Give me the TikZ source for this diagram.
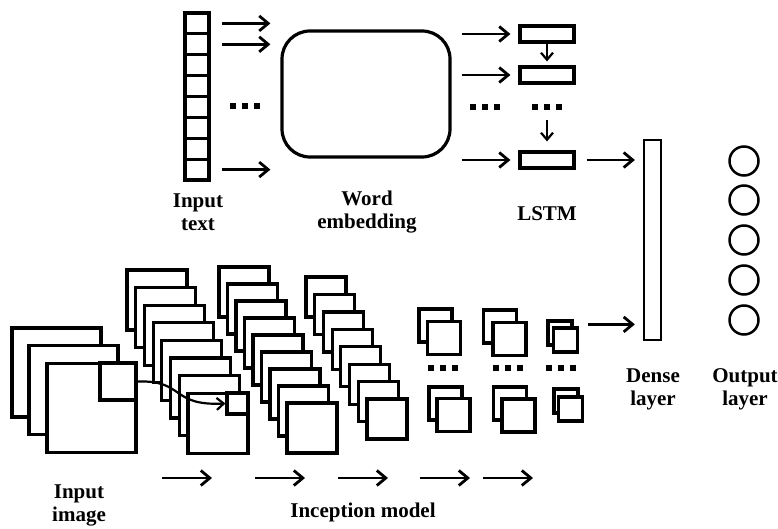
\documentclass[tikz,border=0pt]{standalone}
\usepackage{fontspec}
\setmainfont{Liberation Serif}
\usetikzlibrary{arrows.meta}
\newcommand{\sqdots}{\rule{6.5pt}{6.5pt}\hspace{5.5pt}\rule{6.5pt}{6.5pt}\hspace{5.5pt}\rule{6.5pt}{6.5pt}}
\begin{document}
\begin{tikzpicture}[x=1pt,y=1pt]
\tikzstyle{every node}+=[inner sep=0pt]
\tikzstyle{box}=[draw, line width=3.2pt, fill=white]
\tikzstyle{arr}=[line width=2.8pt, -{Straight Barb[length=9pt,width=15pt]}]
\tikzstyle{thinarr}=[line width=2.2pt, -{Straight Barb[length=7pt,width=12pt]}]
\tikzstyle{lbl}=[font=\fontsize{21}{23}\selectfont\bfseries, align=center]
\useasboundingbox (0,0) rectangle (778,-529);
% input text
\node [box, minimum width=24, minimum height=20.9] (t1) at (197,-23.4) {};
\node [box, minimum width=24, minimum height=20.9] (t2) at (197,-44.3) {};
\node [box, minimum width=24, minimum height=20.9] (t3) at (197,-65.2) {};
\node [box, minimum width=24, minimum height=20.9] (t4) at (197,-86.1) {};
\node [box, minimum width=24, minimum height=20.9] (t5) at (197,-107) {};
\node [box, minimum width=24, minimum height=20.9] (t6) at (197,-127.9) {};
\node [box, minimum width=24, minimum height=20.9] (t7) at (197,-148.8) {};
\node [box, minimum width=24, minimum height=20.9] (t8) at (197,-169.6) {};
\node (tdots) at (245,-106) {\sqdots};
% word embedding
\node [draw, line width=3.2pt, rounded corners=28pt, minimum width=168, minimum height=126] (emb) at (366,-94) {};
\node (edots) at (485,-107) {\sqdots};
% lstm
\node [box, minimum width=54, minimum height=16] (l1) at (547,-34) {};
\node [box, minimum width=54, minimum height=16] (l2) at (547,-75) {};
\node [box, minimum width=54, minimum height=16] (l3) at (547,-160) {};
\node (ldots) at (547,-107) {\sqdots};
% dense and output
\node [draw, line width=2.3pt, minimum width=17, minimum height=200] (dense) at (652.5,-240) {};
\node [draw, circle, line width=2.5pt, minimum size=29] (o1) at (744,-161) {};
\node [draw, circle, line width=2.5pt, minimum size=29] (o2) at (744,-200) {};
\node [draw, circle, line width=2.5pt, minimum size=29] (o3) at (744,-240) {};
\node [draw, circle, line width=2.5pt, minimum size=29] (o4) at (744,-280) {};
\node [draw, circle, line width=2.5pt, minimum size=29] (o5) at (744,-320) {};
\draw [arr, shorten <=11pt, shorten >=10pt] (t1.east) -- (t1.east -| emb.west);
\draw [arr, shorten <=11pt, shorten >=10pt] (t2.east) -- (t2.east -| emb.west);
\draw [arr, shorten <=11pt, shorten >=10pt] (t8.east) -- (t8.east -| emb.west);
\draw [arr, shorten <=10pt, shorten >=8pt] (l1.west -| emb.east) -- (l1.west);
\draw [arr, shorten <=10pt, shorten >=8pt] (l2.west -| emb.east) -- (l2.west);
\draw [arr, shorten <=10pt, shorten >=8pt] (l3.west -| emb.east) -- (l3.west);
\draw [thinarr, shorten >=4pt] (l1.south) -- (l2.north);
\draw [thinarr, shorten <=10pt, shorten >=9pt] (ldots.south) -- (l3.north);
\draw [arr, shorten <=11pt, shorten >=8pt] (l3.east) -- (l3.east -| dense.west);
% input image
\node [box, minimum size=89] (img1) at (56.5,-372.5) {};
\node [box, minimum size=89] (img2) at (73.5,-390) {};
\node [box, minimum size=89] (img3) at (91.5,-408) {};
\node [draw, line width=3.2pt, minimum width=36, minimum height=37] (p0) at (118,-381.5) {};
% inception stacks
\node [box, minimum size=60] (a1) at (157,-300) {};
\node [box, minimum size=60] (a2) at (165.7,-317.6) {};
\node [box, minimum size=60] (a3) at (174.4,-335.2) {};
\node [box, minimum size=60] (a4) at (183.1,-352.8) {};
\node [box, minimum size=60] (a5) at (191.8,-370.4) {};
\node [box, minimum size=60] (a6) at (200.5,-388) {};
\node [box, minimum size=60] (a7) at (209.2,-405.6) {};
\node [box, minimum size=60] (a8) at (217.9,-423.2) {};
\node [draw, line width=3.2pt, minimum size=21] (pa) at (237.5,-403.5) {};
\node [box, minimum size=50] (b1) at (244,-292) {};
\node [box, minimum size=50] (b2) at (252.5,-309) {};
\node [box, minimum size=50] (b3) at (261,-326) {};
\node [box, minimum size=50] (b4) at (269.5,-343) {};
\node [box, minimum size=50] (b5) at (278,-360) {};
\node [box, minimum size=50] (b6) at (286.5,-377) {};
\node [box, minimum size=50] (b7) at (295,-394) {};
\node [box, minimum size=50] (b8) at (303.5,-411) {};
\node [box, minimum size=50] (b9) at (312,-428) {};
\node [box, minimum size=40] (c1) at (326,-297) {};
\node [box, minimum size=40] (c2) at (334.7,-314.4) {};
\node [box, minimum size=40] (c3) at (343.4,-331.9) {};
\node [box, minimum size=40] (c4) at (352.1,-349.3) {};
\node [box, minimum size=40] (c5) at (360.8,-366.7) {};
\node [box, minimum size=40] (c6) at (369.6,-384.2) {};
\node [box, minimum size=40] (c7) at (378.3,-401.6) {};
\node [box, minimum size=40] (c8) at (387,-419) {};
\node [box, minimum size=33] (d1) at (435.5,-325.5) {};
\node [box, minimum size=33] (d2) at (444,-338) {};
\node (ddots) at (443,-368) {\sqdots};
\node [box, minimum size=33] (d3) at (445.5,-403.5) {};
\node [box, minimum size=33] (d4) at (453.5,-415) {};
\node [box, minimum size=33] (e1) at (500,-326.5) {};
\node [box, minimum size=33] (e2) at (509.5,-339) {};
\node (edots2) at (508,-368) {\sqdots};
\node [box, minimum size=33] (e3) at (510,-403.5) {};
\node [box, minimum size=33] (e4) at (518.5,-415.5) {};
\node [box, minimum size=24] (f1) at (560,-333) {};
\node [box, minimum size=24] (f2) at (565.5,-340) {};
\node (fdots) at (561,-368) {\sqdots};
\node [box, minimum size=24] (f3) at (566,-401) {};
\node [box, minimum size=24] (f4) at (570.5,-409) {};
\draw [thinarr] (p0.east) .. controls (185,-380) and (170,-406) .. (pa.west);
\coordinate (fout) at ([xshift=14pt,yshift=-5pt]f1.north east);
\draw [arr, shorten >=8pt] (fout) -- (fout -| dense.west);
% flow arrows
\coordinate (s1) at (162,-478);
\coordinate (s2) at (255,-478);
\coordinate (s3) at (338,-478);
\coordinate (s4) at (420,-478);
\coordinate (s5) at (483,-478);
\draw [arr] (s1) -- ([xshift=50pt]s1);
\draw [arr] (s2) -- ([xshift=50pt]s2);
\draw [arr] (s3) -- ([xshift=50pt]s3);
\draw [arr] (s4) -- ([xshift=50pt]s4);
\draw [arr] (s5) -- ([xshift=50pt]s5);
% labels
\node [lbl] (lintext) at (198,-212) {Input\\text};
\node [lbl] (lemb) at (367,-212) {Word\\embedding};
\node [lbl] (llstm) at (547,-214) {LSTM};
\node [lbl] (ldense) at (653,-389) {Dense\\layer};
\node [lbl] (lout) at (745,-389) {Output\\layer};
\node [lbl] (limg) at (79,-505) {Input\\image};
\node [lbl] (linc) at (363,-512) {Inception model};
\end{tikzpicture}
\end{document}
